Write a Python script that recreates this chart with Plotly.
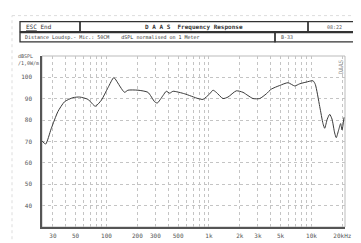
import plotly.graph_objects as go

# ---- data ----
freq_hz = [23.5, 25.5, 28.9, 33.6, 39, 47, 54.8, 66, 77.8, 89, 103.5, 118, 129, 134.5, 145,
           150.6, 162, 203, 254, 295, 313, 356, 383, 414, 446, 580, 781, 874, 1016, 1094,
           1178, 1370, 1532, 1847, 2148, 2400, 2686, 3124, 3625, 4055, 4895, 5900, 6860,
           7680, 8900, 10350, 10900, 12030, 12950, 13450, 14260, 15060, 15850, 16830,
           17450, 18410, 19270, 19860, 20770]
spl_db = [70.3, 68.8, 76, 84, 88.6, 90.5, 90.8, 89.7, 86.5, 89.3, 95.2, 99.9, 97.4, 96, 93.7,
          93, 94, 94, 93, 88.6, 88, 91.5, 93.5, 92.6, 93.5, 92.3, 90.1, 89.7, 92.3, 94,
          93, 90.1, 90.8, 93.7, 93, 91.5, 90.1, 90.1, 92.3, 94.5, 96.2, 97.5, 96,
          97, 97.8, 98.4, 96.7, 86.4, 78.4, 76.2, 80.5, 82.7, 80.5, 74,
          71.8, 75.4, 78.4, 75.4, 81.3]

x_tick_vals = [30, 50, 100, 200, 300, 500, 1000, 2000, 3000, 5000, 10000, 20000]
x_tick_text = ["30", "50", "100", "200", "300", "500", "1k", "2k", "3k", "5k", "10k", "20kHz"]
x_grid_vals = [30, 40, 50, 60, 70, 80, 90, 100, 200, 300, 400, 500, 600, 700, 800, 900,
               1000, 2000, 3000, 4000, 5000, 6000, 7000, 8000, 9000, 10000, 20000]
y_tick_vals = [40, 50, 60, 70, 80, 90, 100]

title_text = "D A A S  Frequency Response"
esc_text = "<u>ESC</u> End"
time_text = "08:22"
info_text = "Distance Loudsp.- Mic.: 50CM    dSPL normalised on 1 Meter"
code_text = "B-33"
ylabel_text = "dBSPL<br>/1,0W/m"
brand_text = "DAAS"

W, H = 361, 243
L, R, T, B = 34, 337, 48, 230
FONT = "DejaVu Sans Mono"


def px(x):
    return (x - L) / (R - L)


def py(y):
    return (B - y) / (B - T)


fig = go.Figure()
fig.add_trace(go.Scatter(
    x=freq_hz, y=spl_db, mode="lines",
    line=dict(color="#3a3a3a", width=1, shape="spline", smoothing=0.6),
    hoverinfo="skip", showlegend=False))

fig.update_layout(
    width=W, height=H,
    margin=dict(l=L, r=W - R, t=T, b=H - B, pad=0),
    paper_bgcolor="white", plot_bgcolor="white",
    font=dict(family=FONT, size=6, color="#555"),
    xaxis=dict(type="log", range=[1.371, 4.327],
               tickvals=x_tick_vals, ticktext=x_tick_text,
               showgrid=False, zeroline=False, ticks="", ticklabelstandoff=2,
               tickfont=dict(size=6, color="#555"),
               showline=True, linecolor="#555", linewidth=1.5,
               minor=dict(tickvals=x_grid_vals, showgrid=True, gridcolor="#c4c4c4",
                          griddash="dot", gridwidth=0.8, ticks="")),
    yaxis=dict(range=[30, 110], tickvals=y_tick_vals,
               showgrid=True, gridcolor="#c4c4c4", griddash="dot", gridwidth=0.8,
               zeroline=False, ticks="", ticklabelstandoff=7,
               tickfont=dict(size=6, color="#555"),
               showline=True, linecolor="#555", linewidth=1.5),
)

shapes = []
# light frame on top/right of plot
shapes.append(dict(type="rect", xref="paper", yref="paper", x0=0, x1=1, y0=0, y1=1,
                   line=dict(color="#aaa", width=0.8), layer="below"))
# faint page edges (left, top)
shapes.append(dict(type="line", xref="paper", yref="paper", x0=px(4), x1=px(4),
                   y0=py(243), y1=py(5), line=dict(color="#ddd", width=1, dash="dot")))
shapes.append(dict(type="line", xref="paper", yref="paper", x0=px(4), x1=px(357),
                   y0=py(5), y1=py(5), line=dict(color="#ddd", width=1, dash="dot")))
# header boxes
boxes = [(12, 72, 11.5, 22), (72, 300, 11.5, 22), (300, 351, 11.5, 22),
         (12, 267, 23, 33), (267, 351, 23, 33)]
for x0, x1, y0, y1 in boxes:
    shapes.append(dict(type="rect", xref="paper", yref="paper",
                       x0=px(x0), x1=px(x1), y0=py(y1), y1=py(y0),
                       line=dict(color="#333", width=1.3)))
fig.update_layout(shapes=shapes)

ann = []


def add_text(t, x, y, size=6, color="#333", xanchor="left", angle=0):
    ann.append(dict(text=t, x=px(x), y=py(y), xref="paper", yref="paper",
                    showarrow=False, xanchor=xanchor, yanchor="middle",
                    textangle=angle, font=dict(family=FONT, size=size, color=color)))


add_text(esc_text, 16, 16.8, size=6)
add_text("<b>" + title_text + "</b>", 186, 16.8, size=6, xanchor="center")
add_text(time_text, 326, 16.8, size=5, color="#555", xanchor="center")
add_text(info_text, 15, 28, size=5)
add_text(code_text, 271, 28, size=5, color="#555")
ann.append(dict(text=ylabel_text, x=px(8), y=py(52), xref="paper", yref="paper",
                showarrow=False, xanchor="left", yanchor="middle", align="left",
                font=dict(family=FONT, size=5, color="#555")))
add_text(brand_text, 332, 60, size=6, color="#999", xanchor="center", angle=-90)
fig.update_layout(annotations=ann)

fig.write_html("out.html")
